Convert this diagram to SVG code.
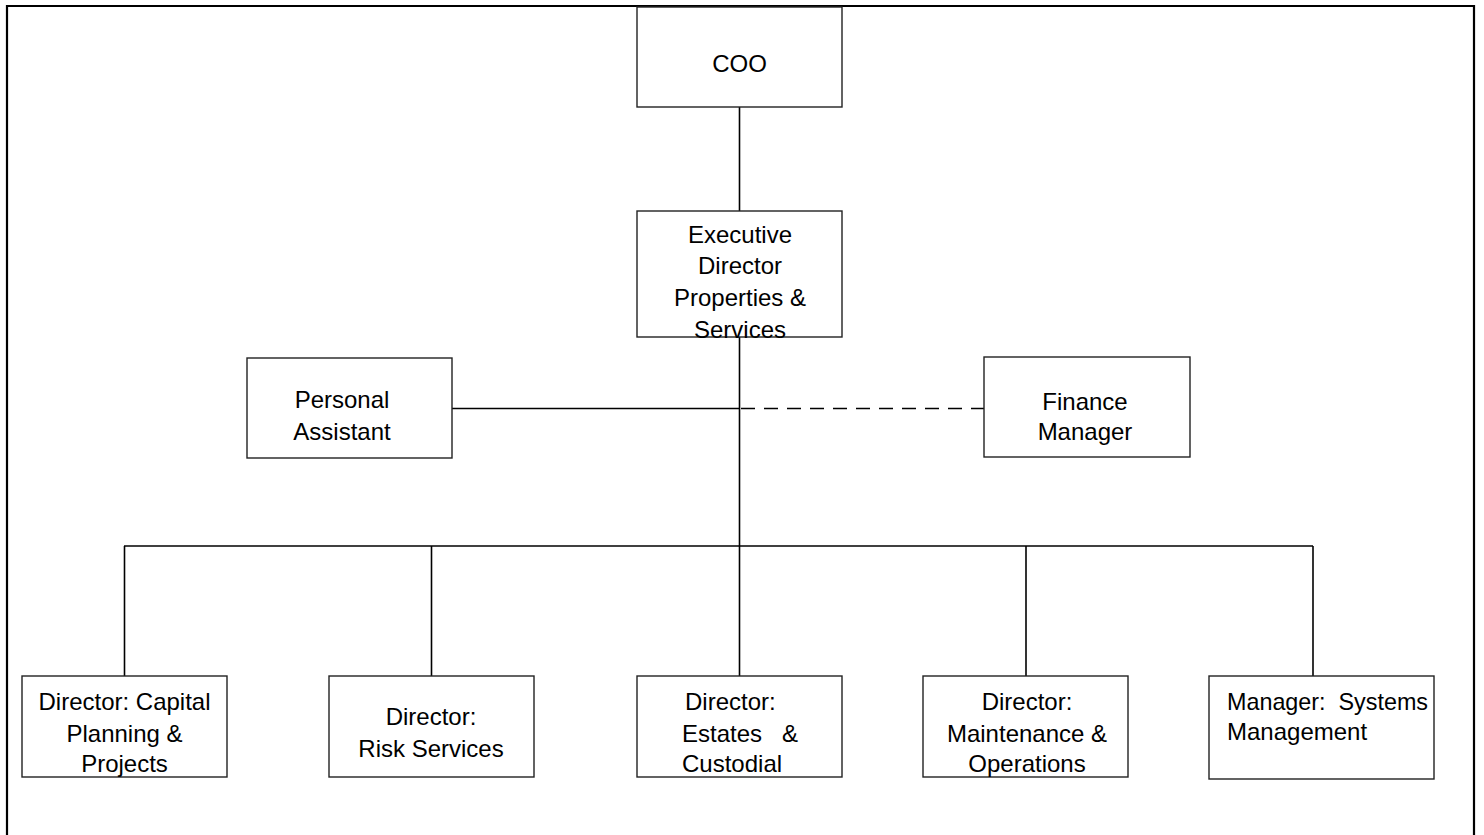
<svg xmlns="http://www.w3.org/2000/svg" width="1484" height="835" viewBox="0 0 1484 835">
<style>
.box{fill:#fff;stroke:#222;stroke-width:1.4}
.t{font-family:"Liberation Sans",Arial,sans-serif;font-size:24px;fill:#000}
.c{text-anchor:middle}
.ln{stroke:#000;stroke-width:1.6;fill:none}
.dash{stroke:#000;stroke-width:1.6;fill:none;stroke-dasharray:14,9}
</style>
<rect width="1484" height="835" fill="#fff"/>
<path d="M7,835 V6 H1474 V835" fill="none" stroke="#000" stroke-width="2.2"/>
<g id="connectors">
<line class="ln" x1="739.5" y1="107" x2="739.5" y2="211"/>
<line class="ln" x1="739.5" y1="337" x2="739.5" y2="546"/>
<line class="ln" x1="452" y1="408.5" x2="739.5" y2="408.5"/>
<line class="dash" x1="741" y1="408.5" x2="984" y2="408.5"/>
<line class="ln" x1="124" y1="546" x2="1313" y2="546"/>
<line class="ln" x1="124.5" y1="546" x2="124.5" y2="676"/>
<line class="ln" x1="431.5" y1="546" x2="431.5" y2="676"/>
<line class="ln" x1="739.5" y1="546" x2="739.5" y2="676"/>
<line class="ln" x1="1026" y1="546" x2="1026" y2="676"/>
<line class="ln" x1="1313" y1="546" x2="1313" y2="676"/>
</g>
<g id="coo">
<rect class="box" x="637" y="7" width="205" height="100"/>
<text class="t c" x="739.5" y="72">COO</text>
</g>
<g id="exec">
<rect class="box" x="637" y="211" width="205" height="126"/>
<text class="t c" x="740" y="243">Executive</text>
<text class="t c" x="740" y="274">Director</text>
<text class="t c" x="740" y="306">Properties &amp;</text>
<text class="t c" x="740" y="338">Services</text>
</g>
<g id="pa">
<rect class="box" x="247" y="358" width="205" height="100"/>
<text class="t c" x="342" y="408">Personal</text>
<text class="t c" x="342" y="440">Assistant</text>
</g>
<g id="finance">
<rect class="box" x="984" y="357" width="206" height="100"/>
<text class="t c" x="1085" y="410">Finance</text>
<text class="t c" x="1085" y="440">Manager</text>
</g>
<g id="capital">
<rect class="box" x="22" y="676" width="205" height="101"/>
<text class="t c" x="124.5" y="710">Director: Capital</text>
<text class="t c" x="124.5" y="742">Planning &amp;</text>
<text class="t c" x="124.5" y="772">Projects</text>
</g>
<g id="risk">
<rect class="box" x="329" y="676" width="205" height="101"/>
<text class="t c" x="431" y="725">Director:</text>
<text class="t c" x="431" y="757">Risk Services</text>
</g>
<g id="estates">
<rect class="box" x="637" y="676" width="205" height="101"/>
<text class="t" x="685" y="710">Director:</text>
<text class="t" x="682" y="742">Estates</text>
<text class="t" x="782" y="742">&amp;</text>
<text class="t" x="682" y="772">Custodial</text>
</g>
<g id="maintenance">
<rect class="box" x="923" y="676" width="205" height="101"/>
<text class="t c" x="1027" y="710">Director:</text>
<text class="t c" x="1027" y="742">Maintenance &amp;</text>
<text class="t c" x="1027" y="772">Operations</text>
</g>
<g id="systems">
<rect class="box" x="1209" y="676" width="225" height="103"/>
<text class="t" x="1227" y="710" xml:space="preserve" textLength="201" lengthAdjust="spacingAndGlyphs">Manager:  Systems</text>
<text class="t" x="1227" y="740">Management</text>
</g>
</svg>
